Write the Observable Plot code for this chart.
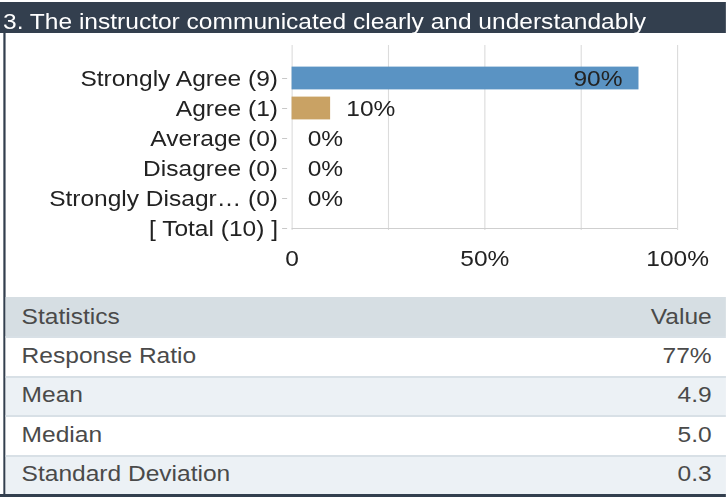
<!DOCTYPE html>
<html>
<head>
<meta charset="utf-8">
<script src="https://cdn.jsdelivr.net/npm/d3@7"></script>
<script src="https://cdn.jsdelivr.net/npm/@observablehq/plot@0.6"></script>
<style>
  html, body { margin: 0; padding: 0; background: #fff; overflow: hidden; }
  #page {
    position: absolute; left: 0; top: 0;
    width: 651px; height: 497px;
    transform: scaleX(1.115); transform-origin: 0 0;
    font-family: "Liberation Sans", Arial, sans-serif;
  }
  #title {
    position: absolute; left: 0; top: 2px; width: 651px; height: 31px;
    background: #333f4e;
  }
  #title span {
    position: absolute; left: 2.7px; top: 6.5px;
    color: #fff; font-size: 22px; line-height: normal; white-space: nowrap;
  }
  #lborder { position: absolute; left: 3.1px; top: 33px; width: 2.3px; height: 464px; background: #333f4e; }
  #bborder { position: absolute; left: 0; top: 494px; width: 651px; height: 3px; background: #333f4e; }
  #chart { position: absolute; left: 0; top: 33px; }
  #stats {
    position: absolute; left: 5.4px; top: 297px; width: 645.6px;
    font-size: 22px; color: #4a4a4a;
  }
  .row {
    position: relative; height: 39.4px; box-sizing: border-box;
    display: flex; align-items: center; justify-content: space-between;
    padding: 0 12.7px 0 14px;
  }
  .row.head { background: #d6dee3; }
  .row.body { border-top: 2px solid #d8e0e6; padding-bottom: 2px; }
  .row.alt { background: #ecf1f5; }
  .row.plain { background: #ffffff; }
</style>
</head>
<body>
<div id="page">
  <div id="title"><span></span></div>
  <div id="chart"></div>
  <div id="stats"></div>
  <div id="lborder"></div>
  <div id="bborder"></div>
</div>
<script>
// ---- data ----
const questionTitle = "3. The instructor communicated clearly and understandably";
const categories = ["Strongly Agree", "Agree", "Average", "Disagree", "Strongly Disagr…"];
const counts = [9, 1, 0, 0, 0];
const percents = [90, 10, 0, 0, 0];
const totalCount = 10;
const barColors = ["#5a93c3", "#c9a264", "#8fb36b", "#d88a5a", "#b05a5a"];
const gridTicks = [0, 25, 50, 75, 100];
const labelTicks = [0, 50, 100];
const labelTickText = ["0", "50%", "100%"];
const statHeader = ["Statistics", "Value"];
const statNames = ["Response Ratio", "Mean", "Median", "Standard Deviation"];
const statValues = ["77%", "4.9", "5.0", "0.3"];

// ---- build ----
document.querySelector("#title span").textContent = questionTitle;

const rows = categories.map((c, i) => ({
  label: `${c} (${counts[i]})`,
  pct: percents[i],
  color: barColors[i]
}));
const totalLabel = `[ Total (${totalCount}) ]`;
const yDomain = rows.map(d => d.label).concat([totalLabel]);

const W = 651, H = 264;
const chart = Plot.plot({
  width: W,
  height: H,
  marginTop: 12,
  marginBottom: 67,
  marginLeft: 261.5,
  marginRight: 43.8,
  style: { fontFamily: "Liberation Sans, Arial, sans-serif", fontSize: "22px", color: "#222", background: "transparent" },
  x: { domain: [0, 100], axis: null },
  y: { domain: yDomain, range: [27.6, 212.4], padding: 0, axis: null, label: null },
  marks: [
    Plot.ruleX(gridTicks, { x: d => d, stroke: "#dcdcdc", strokeWidth: 1 }),
    Plot.ruleY([totalLabel], { y: d => d, x1: gridTicks[0], x2: gridTicks[gridTicks.length - 1], stroke: "#cfcfcf" }),
    Plot.barX(rows, { y: "label", x: "pct", fill: "color", insetTop: 3.6, insetBottom: 3.6 }),
    Plot.axisY({ label: null, tickSize: 4.5, tickPadding: 4.2, dx: -4, stroke: "#c8c8c8", fill: "#222", fontSize: 22, textAnchor: "end" }),
    Plot.text(rows.filter(d => d.pct > 50), { y: "label", x: "pct", text: d => d.pct + "%", textAnchor: "end", dx: -14.8, fill: "#222", fontSize: 22 }),
    Plot.text(rows.filter(d => d.pct <= 50), { y: "label", x: "pct", text: d => d.pct + "%", textAnchor: "start", dx: 14, fill: "#222", fontSize: 22 }),
    Plot.text(labelTicks, { x: d => d, frameAnchor: "bottom", dy: 35.5, text: (d, i) => labelTickText[i], textAnchor: "middle", fill: "#222", fontSize: 22 })
  ]
});
document.getElementById("chart").appendChild(chart);

// statistics table
const stats = document.getElementById("stats");
function addRow(cls, a, b) {
  const r = document.createElement("div");
  r.className = "row " + cls;
  const s1 = document.createElement("span"); s1.textContent = a;
  const s2 = document.createElement("span"); s2.textContent = b;
  r.appendChild(s1); r.appendChild(s2);
  stats.appendChild(r);
}
addRow("head", statHeader[0], statHeader[1]);
statNames.forEach((n, i) => addRow("body " + (i % 2 ? "alt" : "plain"), n, statValues[i]));
</script>
</body>
</html>
